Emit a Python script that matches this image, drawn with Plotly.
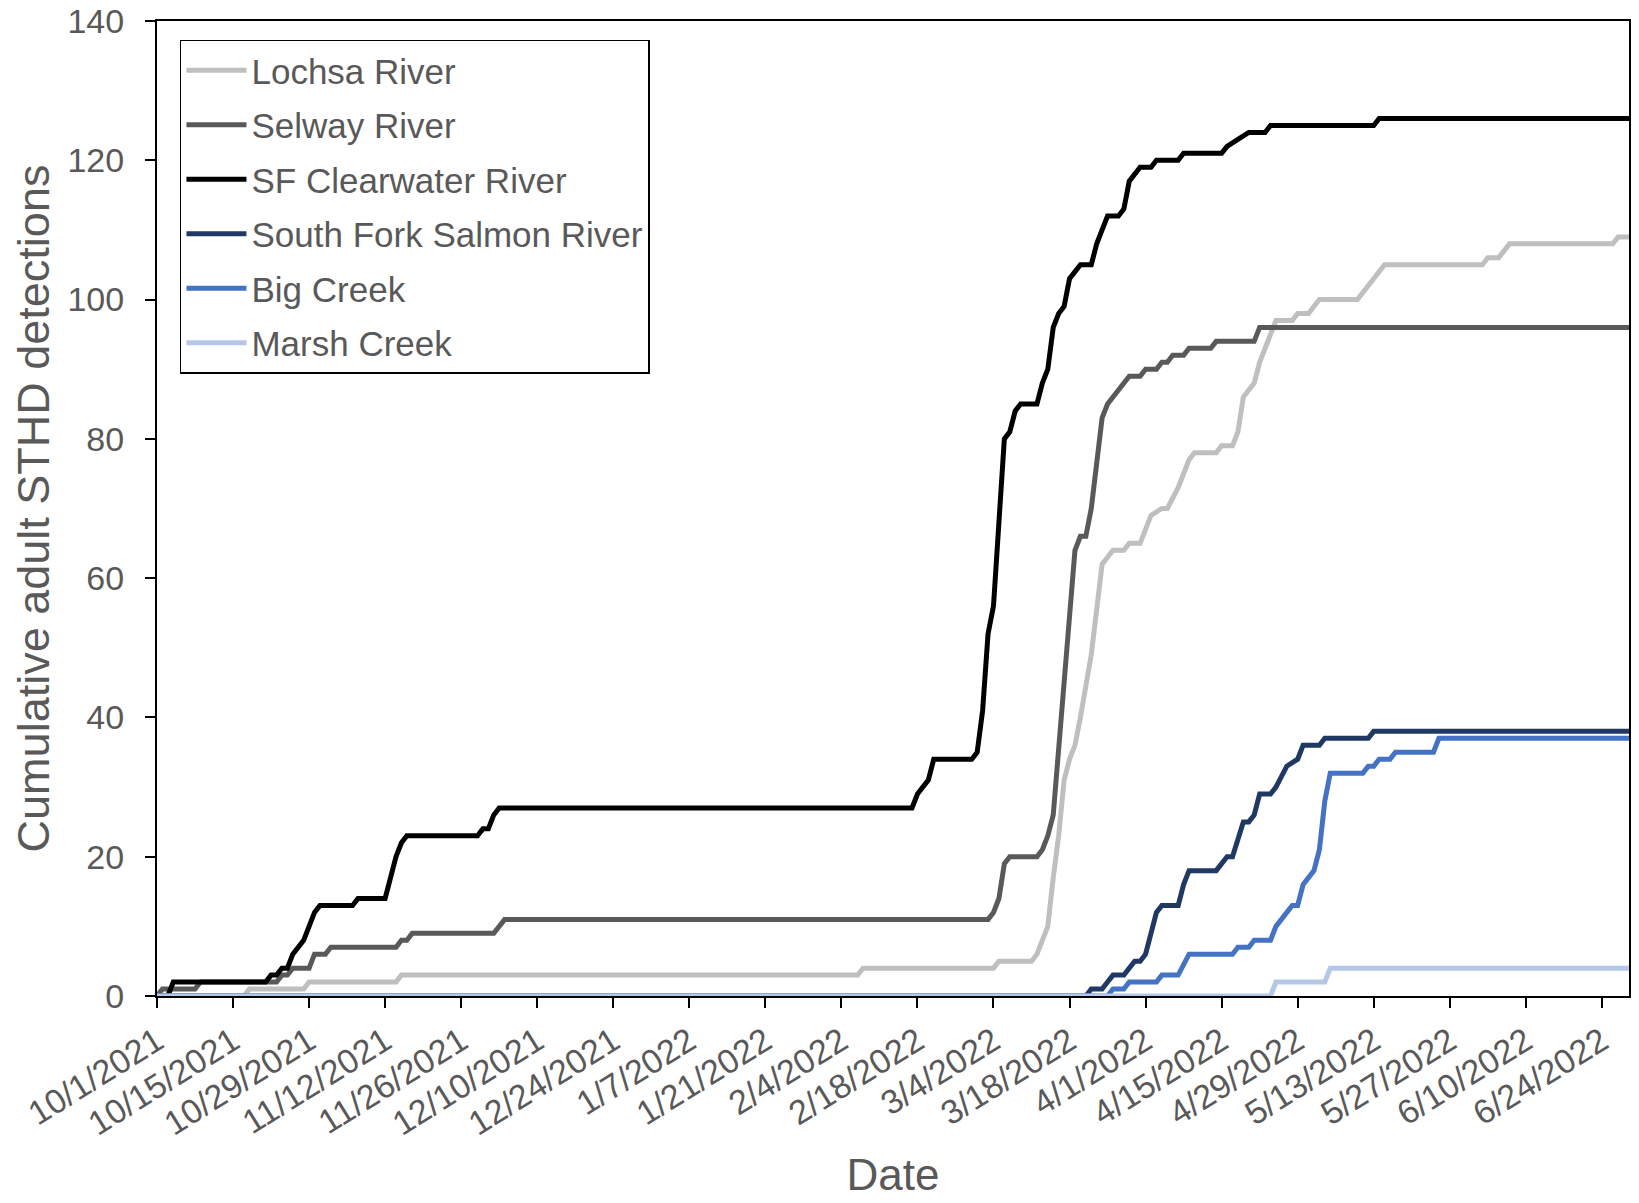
import plotly.graph_objects as go

# ---------------- data ----------------
series_names = ["Lochsa River", "Selway River", "SF Clearwater River",
                "South Fork Salmon River", "Big Creek", "Marsh Creek"]

lochsa_dates = ["2021-10-01","2021-10-17","2021-10-18","2021-10-28","2021-10-29","2021-11-14","2021-11-15",
                "2022-02-07","2022-02-08","2022-03-04","2022-03-05","2022-03-11","2022-03-12","2022-03-13",
                "2022-03-14","2022-03-15","2022-03-16","2022-03-17","2022-03-18","2022-03-19","2022-03-20",
                "2022-03-22","2022-03-23","2022-03-24","2022-03-26","2022-03-28","2022-03-29","2022-03-31",
                "2022-04-02","2022-04-04","2022-04-05","2022-04-07","2022-04-09","2022-04-10","2022-04-14",
                "2022-04-15","2022-04-17","2022-04-18","2022-04-19","2022-04-20","2022-04-21","2022-04-22",
                "2022-04-23","2022-04-24","2022-04-25","2022-04-28","2022-04-29","2022-05-01","2022-05-03",
                "2022-05-10","2022-05-13","2022-05-15","2022-06-02","2022-06-03","2022-06-05","2022-06-07",
                "2022-06-26","2022-06-27","2022-06-29"]
lochsa_vals = [0,0,1,1,2,2,3,3,4,4,5,5,6,8,10,17,23,31,34,36,40,49,55,62,64,64,65,65,69,70,
               70,73,77,78,78,79,79,81,86,87,88,91,93,95,97,97,98,98,100,100,103,105,105,106,106,
               108,108,109,109]

selway_dates = ["2021-10-01","2021-10-02","2021-10-08","2021-10-09","2021-10-23","2021-10-24","2021-10-25",
                "2021-10-26","2021-10-29","2021-10-30","2021-11-01","2021-11-02","2021-11-14","2021-11-15",
                "2021-11-16","2021-11-17","2021-12-02","2021-12-04","2022-03-03","2022-03-04","2022-03-05",
                "2022-03-06","2022-03-07","2022-03-12","2022-03-13","2022-03-14","2022-03-15","2022-03-19",
                "2022-03-20","2022-03-21","2022-03-22","2022-03-24","2022-03-25","2022-03-27","2022-03-29",
                "2022-03-31","2022-04-01","2022-04-03","2022-04-04","2022-04-05","2022-04-06","2022-04-08",
                "2022-04-09","2022-04-13","2022-04-14","2022-04-21","2022-04-22","2022-06-29"]
selway_vals = [0,1,1,2,2,3,3,4,4,6,6,7,7,8,8,9,9,11,11,12,14,19,20,20,21,23,26,64,66,66,
               70,83,85,87,89,89,90,90,91,91,92,92,93,93,94,94,96,96]

sfclear_dates = ["2021-10-01","2021-10-03","2021-10-04","2021-10-21","2021-10-22","2021-10-23","2021-10-24",
                 "2021-10-25","2021-10-26","2021-10-27","2021-10-28","2021-10-29","2021-10-30","2021-10-31",
                 "2021-11-06","2021-11-07","2021-11-12","2021-11-13","2021-11-14","2021-11-15","2021-11-16",
                 "2021-11-29","2021-11-30","2021-12-01","2021-12-02","2021-12-03","2022-02-17","2022-02-18",
                 "2022-02-19","2022-02-20","2022-02-21","2022-02-28","2022-03-01","2022-03-02","2022-03-03",
                 "2022-03-04","2022-03-06","2022-03-07","2022-03-08","2022-03-09","2022-03-12","2022-03-13",
                 "2022-03-14","2022-03-15","2022-03-16","2022-03-17","2022-03-18","2022-03-19","2022-03-20",
                 "2022-03-22","2022-03-23","2022-03-24","2022-03-25","2022-03-27","2022-03-28","2022-03-29",
                 "2022-03-30","2022-03-31","2022-04-02","2022-04-03","2022-04-07","2022-04-08","2022-04-15",
                 "2022-04-16","2022-04-18","2022-04-20","2022-04-23","2022-04-24","2022-05-13","2022-05-14",
                 "2022-06-29"]
sfclear_vals = [0,0,2,2,3,3,4,4,6,7,8,10,12,13,13,14,14,17,20,22,23,23,24,24,26,27,27,29,30,31,
                34,34,35,41,52,56,80,81,84,85,85,88,90,96,98,99,103,104,105,105,108,110,112,112,113,
                117,118,119,119,120,120,121,121,122,123,124,124,125,125,126,126]

sfsalmon_dates = ["2021-10-01","2022-03-21","2022-03-22","2022-03-24","2022-03-25","2022-03-26","2022-03-28",
                  "2022-03-29","2022-03-30","2022-03-31","2022-04-01","2022-04-02","2022-04-03","2022-04-04",
                  "2022-04-07","2022-04-08","2022-04-09","2022-04-14","2022-04-16","2022-04-17","2022-04-19",
                  "2022-04-20","2022-04-21","2022-04-22","2022-04-24","2022-04-25","2022-04-27","2022-04-29",
                  "2022-04-30","2022-05-03","2022-05-04","2022-05-12","2022-05-13","2022-06-29"]
sfsalmon_vals = [0,0,1,1,2,3,3,4,5,5,6,9,12,13,13,16,18,18,20,20,25,25,26,29,29,30,33,34,36,36,
                 37,37,38,38]

bigcreek_dates = ["2021-10-01","2022-03-25","2022-03-26","2022-03-28","2022-03-29","2022-04-03","2022-04-04",
                  "2022-04-07","2022-04-09","2022-04-17","2022-04-18","2022-04-20","2022-04-21","2022-04-24",
                  "2022-04-25","2022-04-26","2022-04-28","2022-04-29","2022-04-30","2022-05-01","2022-05-02",
                  "2022-05-03","2022-05-04","2022-05-05","2022-05-11","2022-05-12","2022-05-13","2022-05-14",
                  "2022-05-16","2022-05-17","2022-05-24","2022-05-25","2022-06-29"]
bigcreek_vals = [0,0,1,1,2,2,3,3,6,6,7,7,8,8,10,11,13,13,16,17,18,21,28,32,32,33,33,34,34,35,
                 35,37,37]

marsh_dates = ["2021-10-01","2022-04-24","2022-04-25","2022-05-04","2022-05-05","2022-06-29"]
marsh_vals = [0,0,2,2,4,4]

series_colors = ["#BFBFBF", "#595959", "#000000", "#203864", "#4472C4", "#B4C7E7"]

y_ticks = [0, 20, 40, 60, 80, 100, 120, 140]

# ---------------- figure ----------------
all_dates = [lochsa_dates, selway_dates, sfclear_dates, sfsalmon_dates, bigcreek_dates, marsh_dates]
all_vals = [lochsa_vals, selway_vals, sfclear_vals, sfsalmon_vals, bigcreek_vals, marsh_vals]

FONT = "Liberation Sans, Arial, sans-serif"
TXT = "#595959"

fig = go.Figure()
for name, xs, ys, col in zip(series_names, all_dates, all_vals, series_colors):
    fig.add_trace(go.Scatter(
        x=xs, y=ys, name=name, mode="lines", legendgroup=name,
        line=dict(color=col, width=5, shape="linear"),
    ))

fig.update_layout(
    width=1639, height=1203,
    margin=dict(l=157, r=10, t=21, b=207, autoexpand=False),
    paper_bgcolor="white", plot_bgcolor="white",
    font=dict(family=FONT, color=TXT, size=34),
    showlegend=True,
    legend=dict(
        x=0.0156, y=0.981, xanchor="left", yanchor="top",
        bgcolor="white", bordercolor="black", borderwidth=1.5,
        font=dict(family=FONT, color=TXT, size=35),
        tracegroupgap=6, itemwidth=60,
    ),
    xaxis=dict(
        type="date", automargin=False,
        range=["2021-10-01", "2022-06-29"],
        tick0="2021-10-01", dtick=14 * 86400000,
        tickformat="%-m/%-d/%Y", tickangle=-32,
        showgrid=False, zeroline=False,
        showline=True, linecolor="black", linewidth=2, mirror=True,
        ticks="outside", ticklen=10, tickwidth=2, tickcolor="black",
        tickfont=dict(family=FONT, color=TXT, size=34),
        ticklabelstandoff=0, ticklabeloverflow="allow",
        title=dict(text="Date", font=dict(family=FONT, color=TXT, size=44), standoff=18),
        layer="below traces",
    ),
    yaxis=dict(
        automargin=False,
        range=[0, 140], tickvals=y_ticks,
        showgrid=False, zeroline=False,
        showline=True, linecolor="black", linewidth=2, mirror=True,
        ticks="outside", ticklen=10, tickwidth=2, tickcolor="black",
        tickfont=dict(family=FONT, color=TXT, size=34),
        ticklabelstandoff=14, ticklabeloverflow="allow",
        title=dict(text="Cumulative adult STHD detections",
                   font=dict(family=FONT, color=TXT, size=45), standoff=4),
        layer="below traces",
    ),
)

# remove the page's default 8px body margin so the figure fills the window exactly
fig.write_html("out.html",
               config={"displayModeBar": False},
               post_script="document.body.style.margin='0';document.body.style.overflow='hidden';")
